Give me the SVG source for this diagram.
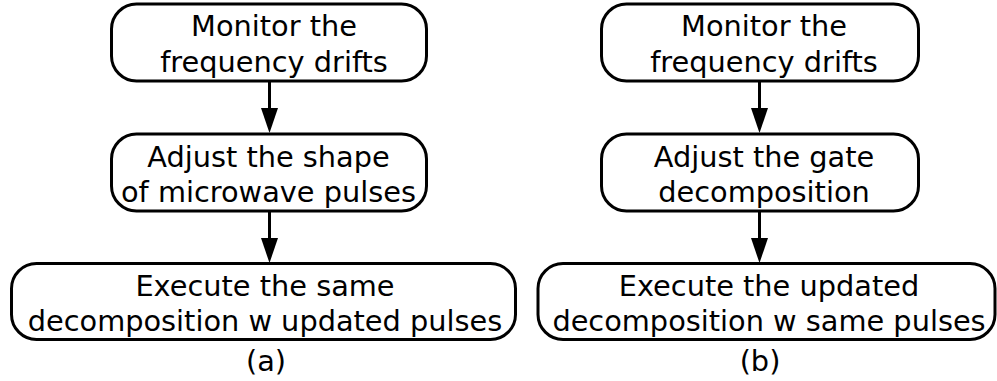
<svg xmlns="http://www.w3.org/2000/svg" width="997" height="381" viewBox="0 0 997 381">
<style>
.box{fill:#fff;stroke:#000;stroke-width:3}
.t{font-family:"DejaVu Sans",sans-serif;font-size:28.8px;fill:#000;text-anchor:middle}
.c{stroke:#000;stroke-width:3;fill:none}
.h{fill:#000}
</style>
<g id="connectors">
<line class="c" x1="269.5" y1="82" x2="269.5" y2="110"/>
<path class="h" d="M261,108 L278,108 L269.5,133 Z"/>
<line class="c" x1="269.5" y1="212" x2="269.5" y2="240"/>
<path class="h" d="M261,238 L278,238 L269.5,263 Z"/>
<line class="c" x1="759.5" y1="82" x2="759.5" y2="110"/>
<path class="h" d="M751,108 L768,108 L759.5,133 Z"/>
<line class="c" x1="759.5" y1="212" x2="759.5" y2="240"/>
<path class="h" d="M751,238 L768,238 L759.5,263 Z"/>
</g>
<g id="a1">
<rect class="box" x="111.5" y="4" width="315" height="77" rx="25"/>
<text class="t" x="274" y="36">Monitor the</text>
<text class="t" x="274" y="72">frequency drifts</text>
</g>
<g id="a2">
<rect class="box" x="111.5" y="134" width="315" height="77" rx="25"/>
<text class="t" x="268.5" y="166.5">Adjust the shape</text>
<text class="t" x="268.5" y="202">of microwave pulses</text>
</g>
<g id="a3">
<rect class="box" x="11.5" y="263.5" width="504" height="76" rx="25"/>
<text class="t" x="265" y="295.5">Execute the same</text>
<text class="t" x="265" y="331">decomposition w updated pulses</text>
</g>
<text class="t" x="266" y="371">(a)</text>
<g id="b1">
<rect class="box" x="601.5" y="4" width="317" height="77" rx="25"/>
<text class="t" x="764" y="36">Monitor the</text>
<text class="t" x="764" y="72">frequency drifts</text>
</g>
<g id="b2">
<rect class="box" x="601.5" y="134" width="317" height="77" rx="25"/>
<text class="t" x="764" y="166.5">Adjust the gate</text>
<text class="t" x="764" y="202">decomposition</text>
</g>
<g id="b3">
<rect class="box" x="538" y="263.5" width="457" height="76" rx="25"/>
<text class="t" x="769" y="295.5">Execute the updated</text>
<text class="t" x="769" y="331">decomposition w same pulses</text>
</g>
<text class="t" x="760" y="371">(b)</text>
</svg>
